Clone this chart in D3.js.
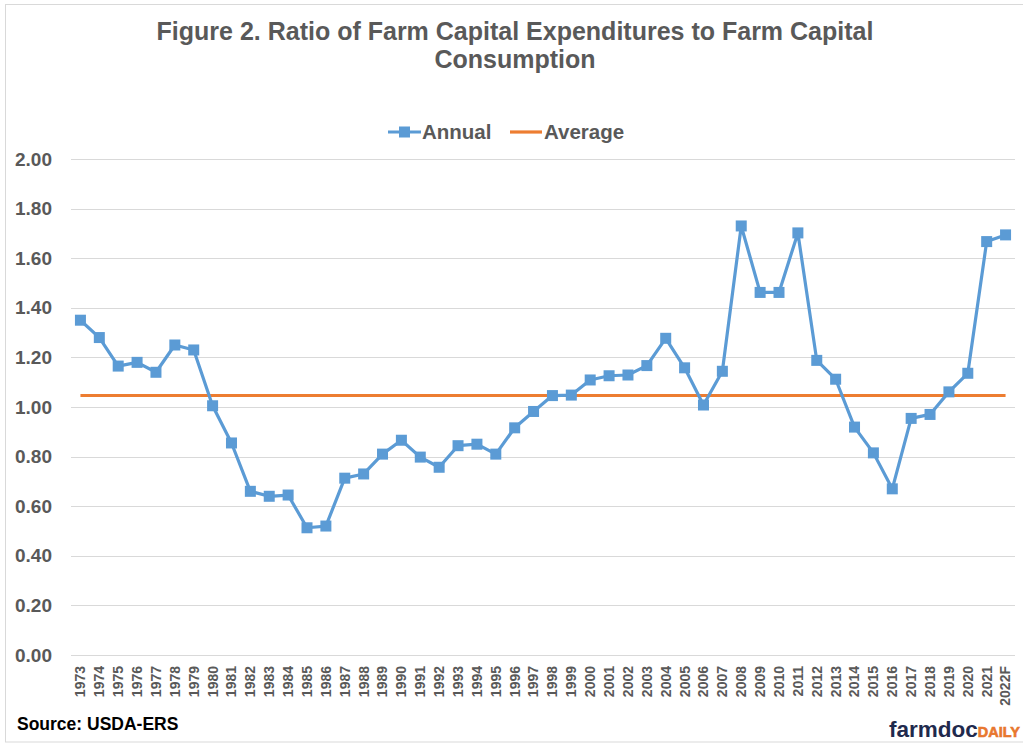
<!DOCTYPE html>
<html lang="en">
<head>
  <meta charset="UTF-8" />
  <title>Figure 2. Ratio of Farm Capital Expenditures to Farm Capital Consumption</title>
  <script src="https://d3js.org/d3.v7.min.js"></script>
  <style>
    body {
      margin: 0;
      background: #fff;
      font-family: "Liberation Sans", Arial, sans-serif;
    }
    .grid line {
      stroke: #d9d9d9;
      stroke-width: 1;
    }
  </style>
</head>
<body>
  <svg id="chart" width="1023" height="743"></svg>

  <script>
    const years = ["1973", "1974", "1975", "1976", "1977", "1978", "1979", "1980", "1981", "1982",
      "1983", "1984", "1985", "1986", "1987", "1988", "1989", "1990", "1991", "1992",
      "1993", "1994", "1995", "1996", "1997", "1998", "1999", "2000", "2001", "2002",
      "2003", "2004", "2005", "2006", "2007", "2008", "2009", "2010", "2011", "2012",
      "2013", "2014", "2015", "2016", "2017", "2018", "2019", "2020", "2021", "2022F"];

    const annual = [1.35, 1.28, 1.165, 1.18, 1.14, 1.25, 1.23, 1.005, 0.855, 0.66,
      0.64, 0.645, 0.513, 0.52, 0.713, 0.73, 0.81, 0.866, 0.798, 0.757,
      0.844, 0.85, 0.81, 0.916, 0.982, 1.046, 1.048, 1.109, 1.126, 1.129,
      1.167, 1.277, 1.158, 1.008, 1.144, 1.73, 1.462, 1.462, 1.702, 1.188,
      1.112, 0.919, 0.815, 0.67, 0.954, 0.97, 1.061, 1.136, 1.667, 1.694];

    const average = 1.046;

    const yTicks = [0, 0.2, 0.4, 0.6, 0.8, 1.0, 1.2, 1.4, 1.6, 1.8, 2.0];

    const width = 1023;
    const height = 743;
    const margin = { top: 159, right: 8, bottom: 88, left: 71 };
    const textColor = "#595959";
    const blue = "#5b9bd5";
    const orange = "#ed7d31";

    const svg = d3.select("#chart");

    // outer frame
    svg.append("rect")
      .attr("x", 5.5).attr("y", 4.5)
      .attr("width", width + 10).attr("height", 737.5)
      .attr("fill", "none")
      .attr("stroke", "#d9d9d9");

    const x = d3.scaleBand()
      .domain(years)
      .range([margin.left, width - margin.right]);

    const y = d3.scaleLinear()
      .domain([0, 2])
      .range([height - margin.bottom, margin.top]);

    // gridlines
    svg.append("g")
      .attr("class", "grid")
      .selectAll("line")
      .data(yTicks)
      .join("line")
      .attr("x1", margin.left)
      .attr("x2", width - margin.right)
      .attr("y1", d => Math.round(y(d)) + 0.5)
      .attr("y2", d => Math.round(y(d)) + 0.5);

    // y axis labels
    const yAxis = d3.axisLeft(y)
      .tickValues(yTicks)
      .tickFormat(d3.format(".2f"))
      .tickSize(0)
      .tickPadding(19);

    svg.append("g")
      .attr("transform", `translate(${margin.left},0)`)
      .call(yAxis)
      .call(g => g.select(".domain").remove())
      .selectAll("text")
      .attr("fill", textColor)
      .style("font-family", "'Liberation Sans', Arial, sans-serif")
      .style("font-size", "19px")
      .style("font-weight", "bold");

    // x axis labels (rotated)
    const xAxis = d3.axisBottom(x).tickSize(0);
    svg.append("g")
      .attr("transform", `translate(0,${height - margin.bottom})`)
      .call(xAxis)
      .call(g => g.select(".domain").remove())
      .selectAll("text")
      .attr("fill", textColor)
      .style("font-family", "'Liberation Sans', Arial, sans-serif")
      .style("font-size", "14px")
      .style("font-weight", "bold")
      .attr("text-anchor", "end")
      .attr("transform", "rotate(-90)")
      .attr("x", -11)
      .attr("y", 0)
      .attr("dy", "0.35em");

    // average line
    svg.append("line")
      .attr("x1", x(years[0]) + x.bandwidth() / 2)
      .attr("x2", x(years[years.length - 1]) + x.bandwidth() / 2)
      .attr("y1", y(average))
      .attr("y2", y(average))
      .attr("stroke", orange)
      .attr("stroke-width", 3);

    // annual line
    const line = d3.line()
      .x((d, i) => x(years[i]) + x.bandwidth() / 2)
      .y(d => y(d));

    svg.append("path")
      .datum(annual)
      .attr("d", line)
      .attr("fill", "none")
      .attr("stroke", blue)
      .attr("stroke-width", 3.2)
      .attr("stroke-linejoin", "round");

    const sq = 11;
    svg.append("g")
      .selectAll("rect")
      .data(annual)
      .join("rect")
      .attr("x", (d, i) => x(years[i]) + x.bandwidth() / 2 - sq / 2)
      .attr("y", d => y(d) - sq / 2)
      .attr("width", sq)
      .attr("height", sq)
      .attr("fill", blue);

    // title
    const title = svg.append("text")
      .attr("text-anchor", "middle")
      .attr("fill", textColor)
      .style("font-size", "25px")
      .style("font-weight", "bold");
    title.append("tspan").attr("x", 515).attr("y", 40)
      .text("Figure 2. Ratio of Farm Capital Expenditures to Farm Capital");
    title.append("tspan").attr("x", 515).attr("y", 68)
      .text("Consumption");

    // legend
    const legend = svg.append("g").attr("transform", "translate(0,132)");
    legend.append("line")
      .attr("x1", 388).attr("x2", 421)
      .attr("stroke", blue).attr("stroke-width", 3.2);
    legend.append("rect")
      .attr("x", 399).attr("y", -5.5)
      .attr("width", sq).attr("height", sq)
      .attr("fill", blue);
    legend.append("text")
      .attr("x", 422).attr("dy", "0.36em")
      .attr("fill", textColor)
      .style("font-size", "20.5px").style("font-weight", "bold")
      .text("Annual");
    legend.append("line")
      .attr("x1", 510).attr("x2", 542)
      .attr("stroke", orange).attr("stroke-width", 3.2);
    legend.append("text")
      .attr("x", 544).attr("dy", "0.36em")
      .attr("fill", textColor)
      .style("font-size", "20.5px").style("font-weight", "bold")
      .text("Average");

    // source note
    svg.append("text")
      .attr("x", 17).attr("y", 730)
      .attr("fill", "#000")
      .style("font-size", "17.5px").style("font-weight", "bold")
      .text("Source: USDA-ERS");

    // farmdoc daily logo
    const logo = svg.append("text")
      .attr("x", 1020).attr("y", 737)
      .attr("text-anchor", "end")
      .style("font-weight", "bold");
    logo.append("tspan")
      .attr("fill", "#1f2a4d")
      .style("font-size", "22.5px")
      .text("farmdoc");
    logo.append("tspan")
      .attr("fill", "#e8772e")
      .style("font-size", "14.5px")
      .attr("stroke", "#e8772e")
      .attr("stroke-width", 0.6)
      .text("DAILY");
  </script>
</body>
</html>
